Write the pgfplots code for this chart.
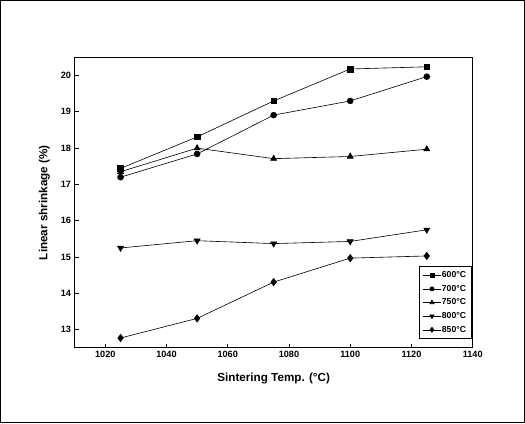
\documentclass[border=0pt]{standalone}
\usepackage{fontspec}
\setmainfont{Liberation Sans}
\usepackage{pgfplots}
\pgfplotsset{compat=1.18}

\begin{document}
\begin{tikzpicture}[x=1pt,y=1pt]
\begin{axis}[
  at={(0,0)}, anchor=south west,
  scale only axis, width=392pt, height=286pt,
  xmin=1010, xmax=1140, ymin=12.5, ymax=20.5,
  xtick={1020,1040,...,1140}, ytick={13,14,...,20},
  tick align=inside, xtick pos=bottom, ytick pos=left,
  major tick length=4pt,
  axis line style={line width=1pt},
  tick style={line width=0.8pt,black},
  tick label style={font=\bfseries\fontsize{9}{10}\selectfont},
  /pgf/number format/assume math mode=true,
  /pgf/number format/set thousands separator={},
  xlabel={Sintering Temp. (°C)},
  ylabel={Linear shrinkage (\%)},
  label style={font=\bfseries\fontsize{11.5}{13}\selectfont},
  xlabel style={yshift=-8pt},
  ylabel style={yshift=4pt},
  every axis plot/.append style={black, line width=0.6pt, mark options={solid, fill=black}},
  legend cell align=left,
  legend style={at={(rel axis cs:0.997,0.03)}, anchor=south east,
    font=\bfseries\fontsize{8.5}{9}\selectfont, draw=black, line width=0.8pt,
    row sep=4pt, inner sep=4pt,
    nodes={inner sep=1pt}},
  legend image code/.code={
    \draw[mark repeat=2,mark phase=2,#1,line width=0.6pt,every mark/.append style={scale=0.7}]
      plot coordinates {(0cm,0cm) (0.3cm,0cm) (0.6cm,0cm)};},
]
\addplot[mark=square*, mark size=2.8pt] coordinates
  {(1025,17.44) (1050,18.31) (1075,19.30) (1100,20.18) (1125,20.24)};
\addplot[mark=*, mark size=2.9pt] coordinates
  {(1025,17.20) (1050,17.84) (1075,18.91) (1100,19.30) (1125,19.97)};
\addplot[mark=triangle*, mark size=3.4pt] coordinates
  {(1025,17.35) (1050,18.00) (1075,17.71) (1100,17.77) (1125,17.97)};
\addplot[mark=triangle*, mark size=3.4pt, mark options={rotate=180}] coordinates
  {(1025,15.25) (1050,15.45) (1075,15.37) (1100,15.43) (1125,15.75)};
\addplot[mark=diamond*, mark size=3.6pt] coordinates
  {(1025,12.77) (1050,13.31) (1075,14.31) (1100,14.97) (1125,15.03)};
\legend{600°C,700°C,750°C,800°C,850°C}
\end{axis}
\draw[line width=1pt] (-73,-74) rectangle (443,342);
\end{tikzpicture}
\end{document}
